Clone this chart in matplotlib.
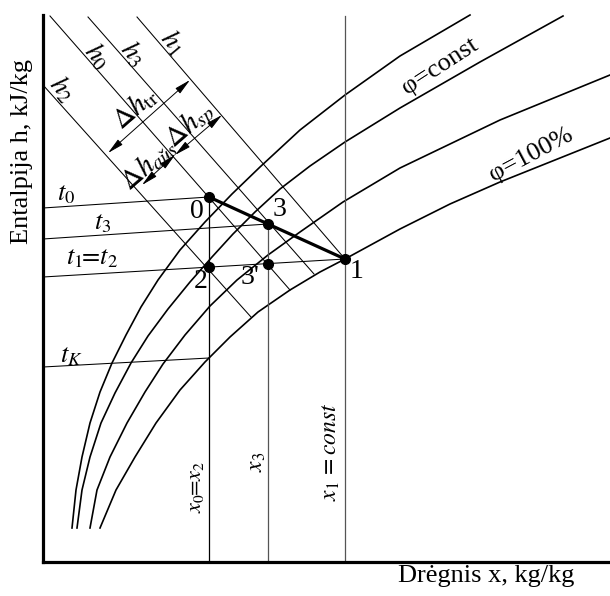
import matplotlib.pyplot as plt

plt.rcParams['font.family'] = ['Liberation Serif', 'DejaVu Serif']
plt.rcParams['mathtext.fontset'] = 'stix'

# schematic h-x diagram, coordinates (pixel units, y down)
phi_a = [(72, 528), (76, 490), (82, 457), (90, 423), (100, 392), (112, 363), (126, 335),
         (141, 307), (158, 280), (180, 250), (205, 222), (232, 194), (260, 167), (300, 130),
         (345, 95), (400, 56), (470, 15)]
phi_b = [(77, 528), (82, 490), (90, 457), (101, 423), (115, 393), (131, 363), (148, 336),
         (168, 309), (190, 282), (212, 257), (233, 234), (255, 212), (280, 189), (310, 166),
         (345, 142), (400, 108), (480, 62), (563, 16)]
phi_c = [(90, 528), (97, 490), (110, 457), (127, 423), (145, 392), (163, 364), (185, 335),
         (210, 306), (237, 280), (268, 255), (300, 232), (343, 202), (400, 168), (500, 120),
         (610, 75)]
phi_d = [(100, 528), (116, 490), (135, 457), (156, 423), (180, 390), (205, 362), (230, 337),
         (258, 312), (290, 290), (320, 272), (345, 259), (400, 229), (450, 204), (500, 182),
         (555, 160), (610, 138)]

pt_names = ['0', '3', '2', "3'", '1']
pt_x = [209, 268, 209, 268, 345]
pt_y = [197, 224, 267, 264, 259]

# enthalpy lines h2, h0, h3, h1 (start, end)
h_lines = [((43, 85), (251, 317)), ((50, 16), (290, 290)),
           ((88, 17), (314, 274)), ((137, 17), (345, 259))]
h_labels = ['$h_2$', '$h_0$', '$h_3$', '$h_1$']
h_label_pos = [(62, 89), (97, 56), (133, 54), (172, 43)]

# temperature lines t0, t3, t1=t2, tK
t_lines = [((43, 208), (209, 197)), ((43, 239), (268, 224)),
           ((43, 277), (345, 259)), ((43, 367), (209, 358))]
t_labels = ['$t_0$', '$t_3$', r'$t_1\!\!=\!t_2$', '$t_K$']
t_label_pos = [(66, 195), (103, 224), (92, 259), (71, 357)]

# constant moisture lines x0=x2, x3, x1
x_vals = [209, 268, 345]
x_tops = [197, 224, 16]
x_colors = ['black', '#555555', '#555555']
x_labels = [r'$x_0\!\!=\!x_2$', '$x_3$', r'$x_{\mathrm{1}}\,=const$']
x_label_pos = [(197, 487), (258, 462), (331, 452)]
x_label_size = [16, 17, 17]

# enthalpy difference arrows
dh_arrows = [((108, 153), (190, 80)), ((142, 185), (175, 155)), ((175, 155), (222, 115))]
dh_labels = [r'$\Delta h_{\mathrm{tr}}$', r'$\Delta h_{au\check{s}}$', r'$\Delta h_{sp}$']
dh_label_pos = [(134, 108), (148, 164), (190, 126)]

fig = plt.figure(figsize=(6.1, 5.96), dpi=100)
W, H = 610, 596
ax = fig.add_axes([43 / W, (H - 562) / H, (W - 43) / W, (562 - 15) / H])
ax.set_xlim(43, 610)
ax.set_ylim(562, 15)
ax.set_xticks([])
ax.set_yticks([])
for s in ['top', 'right']:
    ax.spines[s].set_visible(False)
for s in ['left', 'bottom']:
    ax.spines[s].set_linewidth(2.3)

for c in [phi_a, phi_b, phi_c, phi_d]:
    ax.plot([p[0] for p in c], [p[1] for p in c], color='black', lw=1.2, clip_on=False)

for (a, b) in h_lines + t_lines:
    ax.plot([a[0], b[0]], [a[1], b[1]], color='black', lw=0.75, clip_on=False)

for xv, top, col in zip(x_vals, x_tops, x_colors):
    ax.plot([xv, xv], [top, 562], color=col, lw=0.9)

# process line 0 -> 3 -> 1
ax.plot([pt_x[0], pt_x[1], pt_x[4]], [pt_y[0], pt_y[1], pt_y[4]], color='black', lw=2.3)
ax.plot(pt_x, pt_y, 'o', color='black', ms=7)

for (a, b) in dh_arrows:
    ax.annotate('', xy=b, xytext=a,
                arrowprops=dict(arrowstyle='<|-|>,head_length=0.7,head_width=0.15',
                                lw=0.7, color='black', shrinkA=0, shrinkB=0,
                                mutation_scale=14))

for lab, (x, y) in zip(h_labels, h_label_pos):
    ax.text(x, y, lab, fontsize=20, rotation=-50, ha='center', va='center')
for lab, (x, y) in zip(dh_labels, dh_label_pos):
    ax.text(x, y, lab, fontsize=21, rotation=41, ha='center', va='center')
for lab, (x, y) in zip(t_labels, t_label_pos):
    ax.text(x, y, lab, fontsize=19, ha='center', va='center')
for lab, (x, y), fs in zip(x_labels, x_label_pos, x_label_size):
    ax.text(x, y, lab, fontsize=fs, rotation=90, ha='center', va='center')

pt_offsets = [(-12, 14), (11, -14), (-8, 15), (-18, 14), (12, 12)]
for name, x, y, (dx, dy) in zip(pt_names, pt_x, pt_y, pt_offsets):
    ax.text(x + dx, y + dy, name, fontsize=20, ha='center', va='center')

ax.text(440, 66, 'φ=const', fontsize=19, rotation=33, ha='center', va='center')
ax.text(531, 155, 'φ=100%', fontsize=19, rotation=28, ha='center', va='center')

ax.text(22, 152, 'Entalpija h, kJ/kg', fontsize=19, rotation=90, ha='center', va='center',
        clip_on=False)
ax.text(486, 576, 'Drėgnis x, kg/kg', fontsize=19, ha='center', va='center', clip_on=False)

fig.savefig('out.png', dpi=100)
